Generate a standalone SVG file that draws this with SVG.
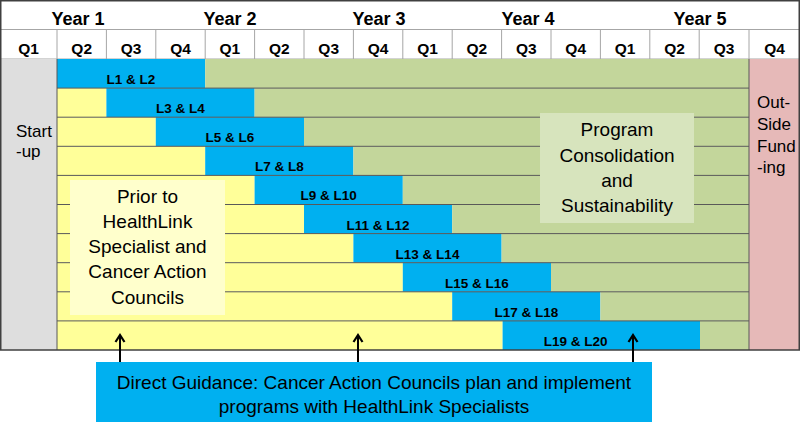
<svg xmlns="http://www.w3.org/2000/svg" width="800" height="422" viewBox="0 0 800 422">
<style>
text{font-family:"Liberation Sans",Arial,sans-serif;fill:#000}
.yr{font-size:18px;font-weight:bold;text-anchor:middle}
.q{font-size:15.5px;font-weight:bold;text-anchor:middle}
.bl{font-size:13.5px;font-weight:bold;text-anchor:middle}
.big{font-size:19px;text-anchor:middle}
.side{font-size:17px}
.hl{stroke:#a6a6a6;stroke-width:1}
.rl{stroke:#595959;stroke-width:1}
.y{fill:#ffff99}.b{fill:#00b0f0}.g{fill:#c3d69b}
.arr{stroke:#000;stroke-width:2;fill:none}
</style>
<defs>
<marker id="ah" markerUnits="userSpaceOnUse" markerWidth="14" markerHeight="14" refX="10" refY="6" orient="auto" viewBox="0 0 14 12">
<path d="M3,1.5 L10,6 L3,10.5" fill="none" stroke="#000" stroke-width="2.2"/>
</marker>
</defs>
<rect x="0" y="0" width="800" height="422" fill="#fff"/>
<g id="header">
<line class="hl" x1="0" y1="29.5" x2="800" y2="29.5"/>
<line class="hl" x1="0" y1="59" x2="800" y2="59"/>
<g class="hl">
<line x1="57" y1="29.5" x2="57" y2="59"/><line x1="106.4" y1="29.5" x2="106.4" y2="59"/><line x1="155.8" y1="29.5" x2="155.8" y2="59"/><line x1="205.2" y1="29.5" x2="205.2" y2="59"/><line x1="254.6" y1="29.5" x2="254.6" y2="59"/><line x1="304" y1="29.5" x2="304" y2="59"/><line x1="353.4" y1="29.5" x2="353.4" y2="59"/><line x1="402.8" y1="29.5" x2="402.8" y2="59"/><line x1="452.2" y1="29.5" x2="452.2" y2="59"/><line x1="501.6" y1="29.5" x2="501.6" y2="59"/><line x1="551" y1="29.5" x2="551" y2="59"/><line x1="600.4" y1="29.5" x2="600.4" y2="59"/><line x1="649.8" y1="29.5" x2="649.8" y2="59"/><line x1="699.2" y1="29.5" x2="699.2" y2="59"/><line x1="749" y1="29.5" x2="749" y2="59"/>
</g>
<text class="yr" x="78" y="25">Year 1</text>
<text class="yr" x="230" y="25">Year 2</text>
<text class="yr" x="379" y="25">Year 3</text>
<text class="yr" x="528" y="25">Year 4</text>
<text class="yr" x="700" y="25">Year 5</text>
<text class="q" x="28.5" y="54">Q1</text>
<text class="q" x="81.7" y="54">Q2</text>
<text class="q" x="131.1" y="54">Q3</text>
<text class="q" x="180.5" y="54">Q4</text>
<text class="q" x="229.9" y="54">Q1</text>
<text class="q" x="279.3" y="54">Q2</text>
<text class="q" x="328.7" y="54">Q3</text>
<text class="q" x="378.1" y="54">Q4</text>
<text class="q" x="427.5" y="54">Q1</text>
<text class="q" x="476.9" y="54">Q2</text>
<text class="q" x="526.3" y="54">Q3</text>
<text class="q" x="575.7" y="54">Q4</text>
<text class="q" x="625.1" y="54">Q1</text>
<text class="q" x="674.5" y="54">Q2</text>
<text class="q" x="724" y="54">Q3</text>
<text class="q" x="774.5" y="54">Q4</text>
</g>
<g id="startup">
<rect x="0" y="59" width="57" height="291" fill="#dedede"/>
<text class="side" x="16" y="137">Start</text>
<text class="side" x="16" y="157">-up</text>
</g>
<g id="outside-funding">
<rect x="749" y="59" width="51" height="291" fill="#e6b9b8"/>
<text class="side" x="757" y="108">Out-</text>
<text class="side" x="757" y="130">Side</text>
<text class="side" x="757" y="152">Fund</text>
<text class="side" x="757" y="173">-ing</text>
</g>
<g id="row1"><rect class="b" x="57" y="59" width="148.2" height="29.1"/><rect class="g" x="205.2" y="59" width="543.8" height="29.1"/><text class="bl" x="131" y="84">L1 &amp; L2</text></g>
<g id="row2"><rect class="y" x="57" y="88.1" width="49.4" height="29.1"/><rect class="b" x="106.4" y="88.1" width="148.2" height="29.1"/><rect class="g" x="254.6" y="88.1" width="494.4" height="29.1"/><text class="bl" x="180.5" y="113">L3 &amp; L4</text></g>
<g id="row3"><rect class="y" x="57" y="117.2" width="98.8" height="29.1"/><rect class="b" x="155.8" y="117.2" width="148.2" height="29.1"/><rect class="g" x="304" y="117.2" width="445" height="29.1"/><text class="bl" x="229.9" y="142">L5 &amp; L6</text></g>
<g id="row4"><rect class="y" x="57" y="146.3" width="148.2" height="29.1"/><rect class="b" x="205.2" y="146.3" width="148.2" height="29.1"/><rect class="g" x="353.4" y="146.3" width="395.6" height="29.1"/><text class="bl" x="279.3" y="171">L7 &amp; L8</text></g>
<g id="row5"><rect class="y" x="57" y="175.4" width="197.6" height="29.1"/><rect class="b" x="254.6" y="175.4" width="148.2" height="29.1"/><rect class="g" x="402.8" y="175.4" width="346.2" height="29.1"/><text class="bl" x="328.7" y="200">L9 &amp; L10</text></g>
<g id="row6"><rect class="y" x="57" y="204.5" width="247" height="29.1"/><rect class="b" x="304" y="204.5" width="148.2" height="29.1"/><rect class="g" x="452.2" y="204.5" width="296.8" height="29.1"/><text class="bl" x="378.1" y="229.5">L11 &amp; L12</text></g>
<g id="row7"><rect class="y" x="57" y="233.6" width="296.4" height="29.1"/><rect class="b" x="353.4" y="233.6" width="148.2" height="29.1"/><rect class="g" x="501.6" y="233.6" width="247.4" height="29.1"/><text class="bl" x="427.5" y="258.5">L13 &amp; L14</text></g>
<g id="row8"><rect class="y" x="57" y="262.7" width="345.8" height="29.1"/><rect class="b" x="402.8" y="262.7" width="148.2" height="29.1"/><rect class="g" x="551" y="262.7" width="198" height="29.1"/><text class="bl" x="476.9" y="287.5">L15 &amp; L16</text></g>
<g id="row9"><rect class="y" x="57" y="291.8" width="395.2" height="29.1"/><rect class="b" x="452.2" y="291.8" width="148.2" height="29.1"/><rect class="g" x="600.4" y="291.8" width="148.6" height="29.1"/><text class="bl" x="526.3" y="316.5">L17 &amp; L18</text></g>
<g id="row10"><rect class="y" x="57" y="320.9" width="445.6" height="29.1"/><rect class="b" x="502.6" y="320.9" width="197.4" height="29.1"/><rect class="g" x="700" y="320.9" width="49" height="29.1"/><text class="bl" x="575.7" y="346">L19 &amp; L20</text></g>
<g id="gridlines" class="rl">
<line x1="57" y1="88.1" x2="749" y2="88.1"/><line x1="57" y1="117.2" x2="749" y2="117.2"/><line x1="57" y1="146.3" x2="749" y2="146.3"/><line x1="57" y1="175.4" x2="749" y2="175.4"/><line x1="57" y1="204.5" x2="749" y2="204.5"/><line x1="57" y1="233.6" x2="749" y2="233.6"/><line x1="57" y1="262.7" x2="749" y2="262.7"/><line x1="57" y1="291.8" x2="749" y2="291.8"/><line x1="57" y1="320.9" x2="749" y2="320.9"/>
<line x1="57" y1="59" x2="57" y2="350"/><line x1="749" y1="59" x2="749" y2="350"/>
</g>
<rect x="0.75" y="0.75" width="798.5" height="349.25" fill="none" stroke="#404040" stroke-width="1.5"/>
<g id="prior">
<rect x="70" y="180" width="155" height="135" fill="#ffffcc"/>
<text class="big" x="147.5" y="203">Prior to</text>
<text class="big" x="147.5" y="228">HealthLink</text>
<text class="big" x="147.5" y="253">Specialist and</text>
<text class="big" x="147.5" y="278">Cancer Action</text>
<text class="big" x="147.5" y="304">Councils</text>
</g>
<g id="program">
<rect x="540" y="113" width="154" height="110" fill="#d7e4bd"/>
<text class="big" x="617" y="136">Program</text>
<text class="big" x="617" y="162">Consolidation</text>
<text class="big" x="617" y="187">and</text>
<text class="big" x="617" y="212">Sustainability</text>
</g>
<g id="guidance">
<rect x="96" y="362" width="556" height="60" fill="#00b0f0"/>
<text class="big" x="374" y="389">Direct Guidance: Cancer Action Councils plan and implement</text>
<text class="big" x="374" y="413">programs with HealthLink Specialists</text>
</g>
<g id="connectors">
<line class="arr" x1="120" y1="362" x2="120" y2="335" marker-end="url(#ah)"/>
<line class="arr" x1="358" y1="362" x2="358" y2="335" marker-end="url(#ah)"/>
<line class="arr" x1="633" y1="362" x2="633" y2="335" marker-end="url(#ah)"/>
</g>
</svg>
